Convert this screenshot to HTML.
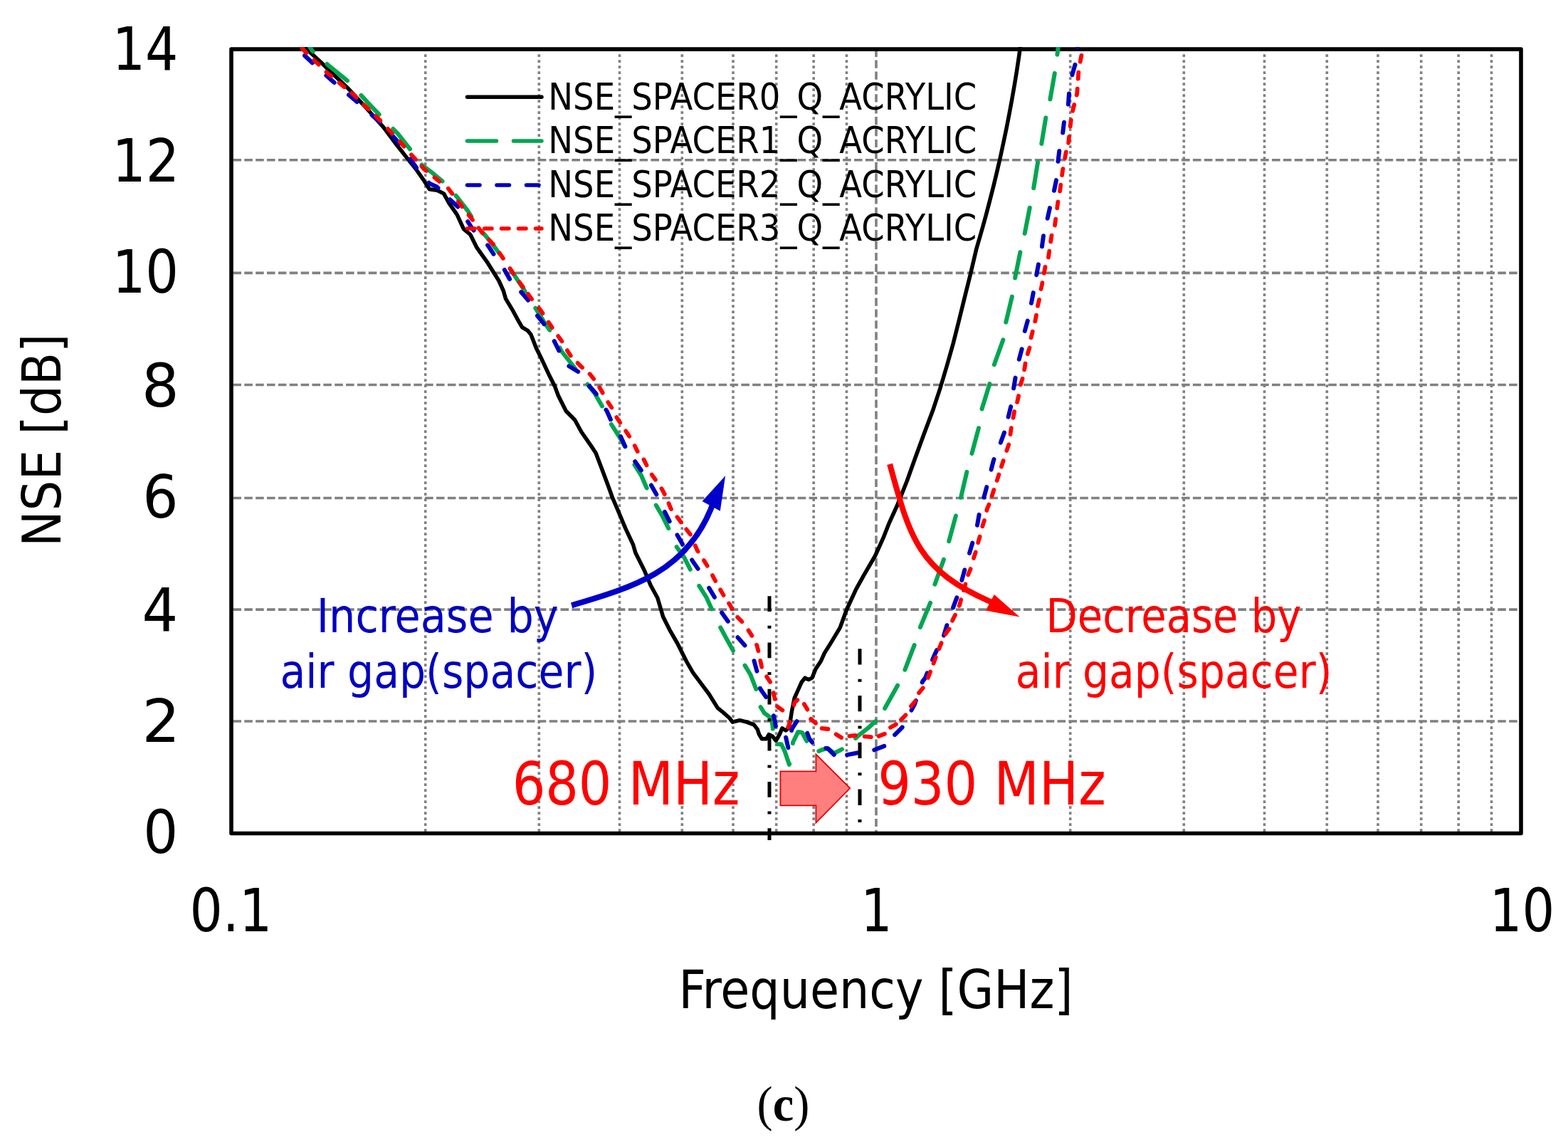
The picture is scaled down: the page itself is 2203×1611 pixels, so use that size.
<!DOCTYPE html>
<html><head><meta charset="utf-8"><title>NSE vs Frequency</title>
<style>html,body{margin:0;padding:0;background:#fff;}body{width:2203px;height:1611px;overflow:hidden;}svg{display:block;}.t{font-family:"DejaVu Sans Condensed","DejaVu Sans","Liberation Sans",sans-serif;font-stretch:condensed;}.s{font-family:"Liberation Serif","DejaVu Serif",serif;}</style>
</head><body>
<svg width="2203" height="1611" viewBox="0 0 2203 1611">
<rect x="0" y="0" width="2203" height="1611" fill="#fff"/>
<defs><clipPath id="pc"><rect x="322" y="66" width="1818" height="1108"/></clipPath></defs>
<g stroke="#808080" stroke-width="3.6" fill="none"><line x1="327.4" y1="224.8" x2="2134" y2="224.8" stroke-dasharray="11.6 4.265"/><line x1="327.4" y1="383.4" x2="2134" y2="383.4" stroke-dasharray="11.6 4.265"/><line x1="327.4" y1="540.5" x2="2134" y2="540.5" stroke-dasharray="11.6 4.265"/><line x1="327.4" y1="699.5" x2="2134" y2="699.5" stroke-dasharray="11.6 4.265"/><line x1="327.4" y1="856.1" x2="2134" y2="856.1" stroke-dasharray="11.6 4.265"/><line x1="327.4" y1="1013.0" x2="2134" y2="1013.0" stroke-dasharray="11.6 4.265"/><line x1="597.7" y1="76.2" x2="597.7" y2="1168" stroke-dasharray="3.7 4.3"/><line x1="757.3" y1="76.2" x2="757.3" y2="1168" stroke-dasharray="3.7 4.3"/><line x1="870.5" y1="76.2" x2="870.5" y2="1168" stroke-dasharray="3.7 4.3"/><line x1="958.3" y1="76.2" x2="958.3" y2="1168" stroke-dasharray="3.7 4.3"/><line x1="1030.0" y1="76.2" x2="1030.0" y2="1168" stroke-dasharray="3.7 4.3"/><line x1="1090.7" y1="76.2" x2="1090.7" y2="1168" stroke-dasharray="3.7 4.3"/><line x1="1143.2" y1="76.2" x2="1143.2" y2="1168" stroke-dasharray="3.7 4.3"/><line x1="1189.5" y1="76.2" x2="1189.5" y2="1168" stroke-dasharray="3.7 4.3"/><line x1="1503.7" y1="76.2" x2="1503.7" y2="1168" stroke-dasharray="3.7 4.3"/><line x1="1663.3" y1="76.2" x2="1663.3" y2="1168" stroke-dasharray="3.7 4.3"/><line x1="1776.5" y1="76.2" x2="1776.5" y2="1168" stroke-dasharray="3.7 4.3"/><line x1="1864.3" y1="76.2" x2="1864.3" y2="1168" stroke-dasharray="3.7 4.3"/><line x1="1936.0" y1="76.2" x2="1936.0" y2="1168" stroke-dasharray="3.7 4.3"/><line x1="1996.7" y1="76.2" x2="1996.7" y2="1168" stroke-dasharray="3.7 4.3"/><line x1="2049.2" y1="76.2" x2="2049.2" y2="1168" stroke-dasharray="3.7 4.3"/><line x1="2095.5" y1="76.2" x2="2095.5" y2="1168" stroke-dasharray="3.7 4.3"/><line x1="1231.0" y1="68.7" x2="1231.0" y2="1168" stroke-dasharray="11.2 4.7"/></g>
<rect x="325.0" y="69.1" width="1812.0" height="1101.4" fill="none" stroke="#000" stroke-width="5.6" stroke-linejoin="round"/>
<text class="t" font-size="84" x="157.70" y="98.00" textLength="92.59" lengthAdjust="spacingAndGlyphs" fill="#000">14</text>
<text class="t" font-size="84" x="157.53" y="254.60" textLength="94.60" lengthAdjust="spacingAndGlyphs" fill="#000">12</text>
<text class="t" font-size="84" x="157.63" y="411.20" textLength="93.36" lengthAdjust="spacingAndGlyphs" fill="#000">10</text>
<text class="t" font-size="84" x="199.03" y="570.80" textLength="52.63" lengthAdjust="spacingAndGlyphs" fill="#000">8</text>
<text class="t" font-size="84" x="200.18" y="727.00" textLength="50.23" lengthAdjust="spacingAndGlyphs" fill="#000">6</text>
<text class="t" font-size="84" x="199.49" y="885.80" textLength="50.60" lengthAdjust="spacingAndGlyphs" fill="#000">4</text>
<text class="t" font-size="84" x="199.41" y="1042.30" textLength="53.57" lengthAdjust="spacingAndGlyphs" fill="#000">2</text>
<text class="t" font-size="84" x="201.21" y="1198.20" textLength="48.96" lengthAdjust="spacingAndGlyphs" fill="#000">0</text>
<text class="t" font-size="84" x="266.49" y="1308.30" textLength="115.69" lengthAdjust="spacingAndGlyphs" fill="#000">0.1</text>
<text class="t" font-size="84" x="1209.60" y="1308.30" textLength="43.85" lengthAdjust="spacingAndGlyphs" fill="#000">1</text>
<text class="t" font-size="84" x="2092.70" y="1308.30" textLength="91.39" lengthAdjust="spacingAndGlyphs" fill="#000">10</text>
<text class="t" font-size="75" transform="translate(85,761.00) rotate(-90)" x="-7.01" y="0" textLength="299.49" lengthAdjust="spacingAndGlyphs" fill="#000">NSE [dB]</text>
<text class="t" font-size="75" x="953.58" y="1415.80" textLength="553.91" lengthAdjust="spacingAndGlyphs" fill="#000">Frequency [GHz]</text>
<text class="s" font-size="69" x="1063.5" y="1573.8" textLength="73.8" lengthAdjust="spacingAndGlyphs" fill="#000">(<tspan font-weight="bold">c</tspan>)</text>
<g clip-path="url(#pc)" fill="none" stroke-linejoin="round"><polyline points="430.0,64.0 436.0,73.7 452.0,88.5 470.0,106.0 489.5,124.6 514.0,151.0 539.1,179.2 557.0,203.0 571.4,221.4 584.0,237.0 595.5,253.3 603.3,265.7 614.1,267.2 623.5,271.9 631.2,285.9 642.1,301.4 651.4,321.6 660.7,329.3 670.0,347.9 685.5,369.7 701.0,394.5 707.3,408.5 710.4,419.3 719.7,434.8 729.0,451.9 733.6,459.7 741.4,464.3 746.0,470.0 753.3,488.8 761.0,504.3 771.9,527.6 779.7,543.1 784.3,555.5 795.2,577.3 801.4,583.5 807.6,589.7 816.9,606.7 830.9,626.9 837.1,636.2 844.8,656.4 854.1,681.2 860.3,698.5 871.0,723.5 878.8,742.1 889.7,765.4 892.8,776.2 905.2,801.0 914.5,822.8 923.8,839.8 931.6,866.2 940.9,884.8 951.7,903.5 964.5,929.0 973.5,944.7 984.7,959.6 995.9,974.5 1008.3,994.4 1014.5,999.3 1024.4,1008.0 1029.4,1014.2 1039.3,1011.7 1049.2,1014.2 1059.2,1017.9 1064.1,1024.1 1066.6,1031.6 1070.4,1037.8 1076.6,1037.8 1080.3,1031.6 1085.3,1034.1 1090.2,1040.3 1095.2,1031.6 1098.9,1022.9 1104.0,1026.0 1108.5,1022.0 1110.5,1011.7 1112.4,999.3 1116.1,980.7 1121.1,969.5 1126.1,958.3 1131.0,952.1 1136.0,954.6 1141.0,952.1 1145.9,939.7 1153.4,928.5 1158.3,917.4 1166.8,903.9 1180.2,881.6 1189.2,857.0 1202.6,827.9 1213.7,807.8 1229.4,781.0 1240.6,756.4 1249.5,734.1 1260.7,709.5 1274.1,676.0 1285.3,644.7 1298.2,609.5 1310.5,576.8 1320.7,546.0 1329.9,515.3 1339.2,482.5 1347.4,449.8 1355.5,417.0 1363.7,384.2 1371.7,350.0 1380.4,320.0 1385.9,300.0 1391.1,280.0 1396.2,260.0 1401.0,240.0 1405.6,220.0 1409.9,200.0 1414.1,180.0 1418.0,160.0 1421.7,140.0 1425.2,120.0 1428.5,100.0 1431.5,80.0 1434.1,62.0" stroke="#000" stroke-width="5.5"/><path d="M434.0,64.0 438.6,71.2 439.7,72.2M459.4,89.9 462.1,92.3 488.0,113.4M507.3,133.9 521.7,149.4 532.7,160.8M552.3,181.0 559.0,187.9 576.0,209.4M592.6,231.5 593.0,232.0 608.6,243.7 621.5,254.5M640.4,274.7 642.1,276.6 657.6,296.7 662.3,304.4M678.4,326.7 688.6,338.6 701.4,355.7M717.2,378.4 719.7,382.1 735.2,405.4 737.6,409.3M752.3,432.7 766.2,455.0 772.4,463.7M786.4,488.4 789.0,493.5 801.4,509.0 808.4,518.0M825.4,539.8 835.5,552.4 846.0,570.4M858.9,596.0 869.7,612.9 878.4,627.4M891.5,652.9 900.7,667.3 908.3,684.7 908.7,685.5M921.7,709.6 931.6,726.6 939.3,742.1M950.7,768.2 961.0,782.4 969.8,799.8M982.3,822.9 992.1,838.3 999.9,855.3M1012.2,881.3 1020.0,895.7 1030.0,913.8M1046.5,934.6 1054.2,947.2 1062.3,967.9M1068.6,993.0 1074.1,1001.8 1082.8,1008.0 1085.3,1017.9 1085.9,1023.6M1092.2,1045.2 1097.7,1045.2 1102.6,1055.2 1108.8,1073.8 1109.1,1073.1M1113.9,1044.0 1114.0,1042.8 1121.3,1027.9 1127.0,1029.0 1133.4,1040.8M1150.4,1055.0 1155.0,1053.0 1163.0,1051.0 1172.0,1058.0 1182.9,1052.3M1201.9,1036.9 1208.0,1031.6 1219.2,1022.9 1230.1,1013.1M1243.1,995.0 1261.1,962.7M1271.4,940.7 1284.6,906.1M1292.9,880.9 1307.1,846.7M1313.4,820.7 1325.9,785.9M1333.2,760.3 1342.9,724.5M1350.0,698.8 1358.4,662.8M1365.4,637.0 1375.0,601.2M1379.5,574.5 1390.4,539.1M1396.8,512.2 1409.3,477.4M1413.3,452.6 1421.9,416.6M1426.1,390.5 1433.4,354.2M1439.7,328.0 1446.8,291.7M1452.2,264.3 1458.1,227.8M1463.3,201.9 1469.3,165.4M1475.4,139.4 1481.8,102.9M1485.4,76.7 1486.4,68.9 1487.5,62.0" stroke="#00A650" stroke-width="6" stroke-linecap="round"/><path d="M428.0,78.0 438.9,88.3M458.4,106.1 469.6,115.9 469.7,116.0M490.0,133.3 501.5,143.0M522.5,161.5 533.7,171.4M551.1,190.4 559.0,199.0 560.9,201.7M576.5,223.5 583.8,233.8 585.1,235.7M602.6,256.7 604.0,258.0 614.1,262.6 615.5,264.0M632.1,280.3 643.3,290.4M657.2,311.2 663.8,321.6 665.6,323.6M685.1,344.4 685.5,344.8 693.5,356.8M708.8,379.0 708.8,379.0 716.1,392.0M732.2,410.2 741.4,420.9 741.9,421.7M755.0,443.5 755.4,444.1 764.1,454.7 764.4,455.2M778.7,479.2 785.4,492.6M799.4,514.2 812.2,522.0M828.1,542.2 837.1,552.4 837.8,553.6M851.5,575.6 852.6,577.3 857.9,589.2M872.0,613.0 878.2,626.7M892.2,648.2 900.8,660.5M914.9,681.5 922.3,694.5M933.9,718.9 940.7,732.3M951.5,751.4 953.3,754.5 959.0,764.5M972.2,786.5 973.5,788.6 980.6,798.9M996.2,825.9 1003.9,838.8M1014.1,860.5 1022.8,872.7M1036.5,895.3 1046.5,906.4M1059.5,928.2 1063.5,942.7M1067.9,966.8 1067.9,967.0 1076.3,979.1M1087.0,1005.3 1089.0,1014.2 1089.8,1020.0M1104.1,1035.7 1107.4,1050.2 1107.4,1050.0M1112.1,1026.1 1112.4,1024.1 1118.8,1014.2 1119.5,1013.2M1134.2,1029.7 1137.2,1037.8 1141.2,1042.7M1160.5,1050.9 1163.3,1051.5 1171.9,1060.0M1190.1,1060.2 1190.6,1060.1 1203.0,1057.7 1204.8,1057.4M1228.3,1053.3 1242.3,1047.9M1257.1,1032.1 1267.6,1021.7 1267.7,1021.5M1280.5,997.6 1285.0,989.4 1286.8,984.1M1295.7,958.4 1296.2,957.1 1300.0,952.1 1302.7,945.3M1310.1,926.8 1312.0,922.0 1316.2,913.1M1326.0,892.5 1326.2,892.1 1330.4,878.2M1339.1,853.4 1344.3,839.3M1351.3,815.0 1355.3,800.5M1362.0,777.0 1366.3,762.6M1373.0,737.7 1375.6,722.9M1382.4,698.6 1386.3,684.1M1392.6,659.6 1395.9,646.7 1396.5,645.1M1405.8,621.7 1411.0,607.6M1416.6,585.6 1420.2,571.1M1424.1,545.4 1426.6,530.6M1431.8,504.8 1435.7,490.3M1439.8,465.0 1443.8,450.6M1449.0,425.9 1451.8,411.1M1456.2,386.2 1459.0,371.4M1464.0,346.2 1464.0,346.0 1466.0,331.3M1471.7,306.7 1471.9,305.8 1475.0,292.1M1481.0,267.8 1484.0,253.1M1486.5,226.8 1488.3,211.9M1493.2,186.6 1495.0,171.7M1500.9,146.5 1502.0,131.5M1506.4,105.3 1506.5,104.7 1510.5,90.8M1514.0,66.1 1514.0,66.0 1515.0,62.0" stroke="#0000BE" stroke-width="6" stroke-linecap="round"/><path d="M424.4,67.9 426.1,69.9 430.7,74.3M441.3,84.5 447.8,90.7M458.5,101.1 459.7,102.2 465.3,106.9M476.6,116.3 483.5,122.1M494.2,130.9 496.9,133.2 500.8,137.0M511.3,147.2 517.8,153.4M527.8,163.1 534.1,169.2 534.3,169.4M544.9,180.9 551.0,187.5M561.6,198.9 565.2,202.8 567.6,205.6M578.0,217.3 583.9,224.0M592.5,233.7 595.8,237.5 598.9,240.0M610.4,249.3 617.2,254.8 617.4,255.0M629.8,264.8 635.3,272.0M643.8,283.1 648.3,289.0 649.3,290.3M658.5,301.9 664.0,309.0M672.5,320.2 677.9,327.5M686.8,336.8 693.2,343.2M701.8,355.5 706.9,362.9M716.4,377.1 716.6,377.4 721.5,384.5M729.6,396.0 734.9,403.3M741.8,412.8 747.1,420.1M757.2,432.9 760.0,436.4 762.5,440.2M770.7,452.5 775.5,459.7 775.7,460.0M784.2,472.1 789.4,479.4M796.9,492.1 801.8,499.6M811.6,509.9 816.9,515.2 818.1,516.2M828.5,525.3 829.3,526.0 834.2,532.2M842.2,544.0 846.7,551.8M854.3,565.0 859.3,572.5M866.3,586.0 866.6,586.6 871.2,593.5M879.2,605.4 884.2,612.9M891.7,626.0 895.7,634.1M904.5,645.4 908.5,653.5M915.7,666.5 916.2,667.3 920.9,673.8M929.4,686.2 930.2,687.4 933.8,694.1M939.5,706.9 942.4,714.1 943.1,715.1M951.4,726.2 951.7,726.6 956.8,733.4M964.3,743.4 969.8,750.6M976.8,766.3 979.7,773.1 980.6,774.5M988.9,787.0 989.0,787.1 993.7,794.7M1001.0,808.1 1002.9,811.9 1005.2,816.0M1012.1,828.3 1016.6,836.1M1024.1,847.5 1026.2,850.7 1028.5,855.3M1036.2,866.9 1041.7,872.4 1042.4,873.3M1051.5,885.4 1056.4,892.9M1063.0,905.7 1063.5,906.6 1065.4,914.4M1068.3,927.9 1070.1,936.8M1077.1,950.4 1082.1,957.9M1086.7,973.0 1088.7,981.8M1092.1,992.4 1099.4,997.6M1107.3,1020.7 1107.6,1021.7 1109.7,1014.0M1115.5,990.2 1116.3,986.9 1120.4,983.1M1129.8,988.9 1134.4,996.6M1139.2,1009.8 1146.1,1015.7M1154.6,1023.0 1163.6,1024.0M1174.6,1031.2 1182.2,1036.0M1193.3,1033.8 1202.2,1032.9M1214.7,1034.4 1223.7,1035.2M1234.5,1034.0 1242.9,1030.8M1251.0,1021.8 1258.9,1017.4M1266.1,1010.7 1272.4,1004.4M1279.9,991.9 1285.7,985.0M1291.1,973.2 1296.2,967.0 1296.8,966.2M1303.9,951.9 1307.1,943.5M1311.6,931.8 1313.0,928.0 1314.8,923.3M1319.3,911.5 1322.6,903.1M1328.3,890.7 1333.6,883.4M1338.1,871.8 1338.6,870.4 1342.0,863.7M1347.7,850.8 1348.0,850.2 1350.2,842.2M1353.9,829.1 1356.4,820.4M1360.2,807.4 1360.4,806.7 1363.6,799.1M1368.0,784.0 1368.1,783.5 1370.8,775.4M1374.2,762.2 1374.3,761.7 1376.6,753.6M1380.3,739.4 1380.5,738.5 1383.0,730.9M1386.3,717.0 1386.7,715.2 1389.5,708.6M1393.6,696.6 1396.4,688.0M1400.7,675.0 1403.4,666.4M1406.9,655.5 1409.7,647.0M1414.4,632.9 1417.3,624.4M1419.5,610.1 1420.7,601.7 1420.8,601.2M1423.5,586.8 1425.2,578.0M1429.1,564.8 1431.1,556.0M1433.9,540.3 1434.0,540.0 1436.6,531.7M1439.2,519.4 1440.6,510.5M1443.8,497.2 1444.0,496.2 1446.5,488.6M1448.6,474.4 1450.8,465.6M1454.3,451.4 1456.0,442.6M1458.0,429.7 1458.0,429.5 1460.1,420.9M1462.6,406.0 1464.0,399.6 1464.4,397.2M1466.9,383.7 1468.5,375.0 1468.5,374.9M1473.0,361.5 1474.3,352.6M1476.2,339.5 1477.5,330.6M1482.0,316.5 1483.2,307.6M1485.2,292.3 1486.4,283.4M1489.1,268.7 1490.3,259.7M1492.1,246.1 1493.1,238.7 1493.4,237.2M1496.2,222.2 1497.6,214.2 1497.8,213.4M1501.1,200.8 1502.1,191.9M1503.7,177.6 1504.3,171.7 1504.8,168.7M1507.1,155.8 1509.3,147.0M1512.7,133.6 1513.2,131.5 1513.7,124.7M1514.7,110.6 1515.3,101.7M1517.7,86.7 1519.4,77.9M1521.3,63.7 1521.5,62.0" stroke="#FF0000" stroke-width="5.8" stroke-linecap="round"/></g>
<g fill="none"><line x1="656.5" y1="136.2" x2="761" y2="136.2" stroke="#000" stroke-width="5.5" stroke-linecap="round"/><line x1="656.5" y1="198" x2="761" y2="198" stroke="#00A650" stroke-width="5.5" stroke-linecap="round" stroke-dasharray="41 24"/><line x1="656.5" y1="260.1" x2="761" y2="260.1" stroke="#0000BE" stroke-width="5.5" stroke-linecap="round" stroke-dasharray="17.5 24"/><line x1="656.5" y1="321.1" x2="761" y2="321.1" stroke="#FF0000" stroke-width="5.5" stroke-linecap="round" stroke-dasharray="10.5 13.5"/></g>
<text class="t" font-size="51" x="770.33" y="153.80" textLength="601.96" lengthAdjust="spacingAndGlyphs" fill="#000">NSE_SPACER0_Q_ACRYLIC</text>
<text class="t" font-size="51" x="770.33" y="215.40" textLength="601.96" lengthAdjust="spacingAndGlyphs" fill="#000">NSE_SPACER1_Q_ACRYLIC</text>
<text class="t" font-size="51" x="770.33" y="277.00" textLength="601.96" lengthAdjust="spacingAndGlyphs" fill="#000">NSE_SPACER2_Q_ACRYLIC</text>
<text class="t" font-size="51" x="770.33" y="338.40" textLength="601.96" lengthAdjust="spacingAndGlyphs" fill="#000">NSE_SPACER3_Q_ACRYLIC</text>
<g stroke="#000" stroke-width="5" fill="none"><line x1="1081" y1="837.3" x2="1081" y2="1180" stroke-dasharray="21.7 19.8 4 19.7"/><line x1="1208" y1="911.2" x2="1208" y2="1155" stroke-dasharray="22.3 20.2 4 19.3"/></g>
<polygon points="1096.4,1083.4 1146.4,1083.4 1146.4,1059.3 1194.2,1107.1 1146.4,1155.6 1146.4,1131.4 1096.4,1131.4" fill="#FF7F7F" stroke="#E00000" stroke-width="1.8" stroke-linejoin="miter"/>
<path d="M803.1,850.3 C889.0,824.7 961.3,804.3 998.4,715.7 L1001,709" fill="none" stroke="#0000CC" stroke-width="8"/>
<polygon points="1019.1,668.3 986.6,704.0 1011.8,717.8" fill="#0000CC"/>
<path d="M1250.1,651.9 C1277.7,751.6 1287.9,800.0 1390.9,844.8 L1396,847" fill="none" stroke="#FF0000" stroke-width="8"/>
<polygon points="1432.6,866.4 1396.8,835.1 1384.9,857.5" fill="#FF0000"/>
<text class="t" font-size="65" x="444.76" y="888.00" textLength="339.89" lengthAdjust="spacingAndGlyphs" fill="#0000C0">Increase by</text>
<text class="t" font-size="65" x="393.40" y="966.40" textLength="445.83" lengthAdjust="spacingAndGlyphs" fill="#0000C0">air gap(spacer)</text>
<text class="t" font-size="65" x="1469.49" y="888.00" textLength="358.93" lengthAdjust="spacingAndGlyphs" fill="#FF0000">Decrease by</text>
<text class="t" font-size="65" x="1426.71" y="966.00" textLength="444.70" lengthAdjust="spacingAndGlyphs" fill="#FF0000">air gap(spacer)</text>
<text class="t" font-size="84" x="719.65" y="1129.90" textLength="319.90" lengthAdjust="spacingAndGlyphs" fill="#FF0000">680 MHz</text>
<text class="t" font-size="84" x="1233.14" y="1129.90" textLength="320.61" lengthAdjust="spacingAndGlyphs" fill="#FF0000">930 MHz</text>
</svg></body></html>
